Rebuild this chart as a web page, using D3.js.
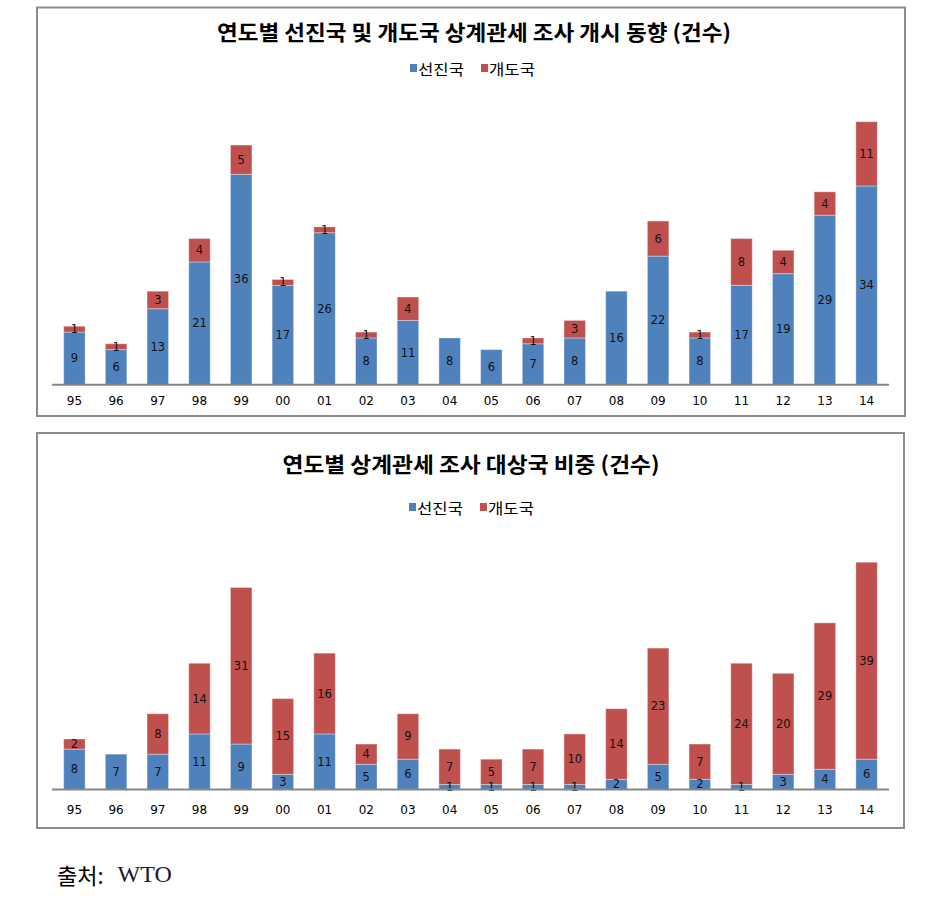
<!DOCTYPE html>
<html>
<head>
<meta charset="utf-8">
<script src="https://cdn.jsdelivr.net/npm/d3@7"></script>
<style>
  html, body { margin: 0; padding: 0; background: #fff; }
  svg { display: block; }
</style>
</head>
<body>
<svg id="chart" width="934" height="914"></svg>
<script>
// ---- data ----
const years = ["95","96","97","98","99","00","01","02","03","04","05","06","07","08","09","10","11","12","13","14"];
const seriesNames = ["선진국", "개도국"];

// Chart 1: 연도별 선진국 및 개도국 상계관세 조사 개시 동향
const initAdvanced   = [9, 6, 13, 21, 36, 17, 26, 8, 11, 8, 6, 7, 8, 16, 22, 8, 17, 19, 29, 34];
const initDeveloping = [1, 1, 3, 4, 5, 1, 1, 1, 4, 0, 0, 1, 3, 0, 6, 1, 8, 4, 4, 11];

// Chart 2: 연도별 상계관세 조사 대상국 비중
const targetAdvanced   = [8, 7, 7, 11, 9, 3, 11, 5, 6, 1, 1, 1, 1, 2, 5, 2, 1, 3, 4, 6];
const targetDeveloping = [2, 0, 8, 14, 31, 15, 16, 4, 9, 7, 5, 7, 10, 14, 23, 7, 24, 20, 29, 39];

const title1 = "연도별 선진국 및 개도국 상계관세 조사 개시 동향 (건수)";
const title2 = "연도별 상계관세 조사 대상국 비중 (건수)";
const sourceLabel = "출처:";
const sourceName = "WTO";

// ---- drawing ----
const colors = ["#4F81BD", "#C0504D"];
const svg = d3.select("#chart");
const korFont = "'Noto Sans CJK KR', 'Noto Sans', sans-serif";
const numFont = "'DejaVu Sans', Verdana, sans-serif";

function drawChart(cfg) {
  const g = svg.append("g");
  // frame
  g.append("rect")
    .attr("x", cfg.box[0]).attr("y", cfg.box[1])
    .attr("width", cfg.box[2]).attr("height", cfg.box[3])
    .attr("fill", "#fff").attr("stroke", "#8c8c8c").attr("stroke-width", 2);

  // title
  g.append("text")
    .attr("x", cfg.titleX).attr("y", cfg.titleY)
    .attr("text-anchor", "middle").attr("dominant-baseline", "central")
    .attr("font-family", korFont).attr("font-weight", "bold")
    .attr("font-size", 21).attr("fill", "#000")
    .attr("textLength", cfg.titleW).attr("lengthAdjust", "spacingAndGlyphs")
    .text(cfg.title);

  // legend
  const lg = g.append("g");
  const items = [
    {name: seriesNames[0], color: colors[0], x: cfg.legendX},
    {name: seriesNames[1], color: colors[1], x: cfg.legendX + 71}
  ];
  items.forEach(it => {
    lg.append("rect").attr("x", it.x).attr("y", cfg.legendY - 4)
      .attr("width", 7).attr("height", 8).attr("fill", it.color);
    lg.append("text").attr("x", it.x + 8).attr("y", cfg.legendY)
      .attr("dominant-baseline", "central")
      .attr("font-family", korFont).attr("font-size", 15).attr("fill", "#000")
      .attr("textLength", 46).attr("lengthAdjust", "spacingAndGlyphs")
      .text(it.name);
  });

  const x = d3.scaleBand().domain(years).range([52, 889])
    .paddingInner(0.485).paddingOuter(0.28);
  const y = d3.scaleLinear().domain([0, 50]).range([cfg.base, cfg.base - 50 * cfg.unit]);

  const rows = years.map((yr, i) => ({year: yr, a: cfg.a[i], d: cfg.d[i]}));
  const stacked = d3.stack().keys(["a", "d"])(rows);

  stacked.forEach((layer, li) => {
    const lgp = g.append("g");
    lgp.selectAll("rect").data(layer.filter(s => s[1] - s[0] > 0)).join("rect")
      .attr("x", s => x(s.data.year))
      .attr("y", s => y(s[1]))
      .attr("width", x.bandwidth())
      .attr("height", s => y(s[0]) - y(s[1]))
      .attr("fill", colors[li])
      .attr("stroke", "#ffffff").attr("stroke-opacity", 0.35).attr("stroke-width", 1);
  });
  stacked.forEach((layer, li) => {
    g.append("g").selectAll("text").data(layer.filter(s => s[1] - s[0] > 0)).join("text")
      .attr("x", s => x(s.data.year) + x.bandwidth() / 2)
      .attr("y", s => (y(s[0]) + y(s[1])) / 2)
      .attr("text-anchor", "middle").attr("dominant-baseline", "central")
      .attr("font-family", numFont).attr("font-size", 11.5).attr("fill", "#111")
      .text(s => s[1] - s[0]);
  });

  // x axis
  const axis = g.append("g").attr("transform", `translate(0,${cfg.base})`)
    .call(d3.axisBottom(x).tickSize(0).tickPadding(0));
  axis.select(".domain").attr("stroke", "#868686").attr("stroke-width", 2)
    .attr("d", `M${52},0H${889}`);
  axis.selectAll(".tick text")
    .attr("y", cfg.tickY - cfg.base).attr("dy", null)
    .attr("dominant-baseline", "central")
    .attr("font-family", numFont).attr("font-size", 12).attr("fill", "#000");
}

drawChart({
  box: [37, 7.5, 868, 408.5],
  title: title1, titleX: 474, titleY: 31, titleW: 514,
  legendX: 410, legendY: 68,
  base: 384.7, unit: 5.845, tickY: 401,
  a: initAdvanced, d: initDeveloping
});

drawChart({
  box: [37, 433, 867, 395],
  title: title2, titleX: 471, titleY: 463, titleW: 377,
  legendX: 409, legendY: 507,
  base: 789.5, unit: 5.05, tickY: 810,
  a: targetAdvanced, d: targetDeveloping
});

// source
const src = svg.append("text").attr("x", 57).attr("y", 874)
  .attr("dominant-baseline", "central");
src.append("tspan").attr("font-family", korFont).attr("font-size", 22).attr("fill", "#000")
  .text(sourceLabel);
src.append("tspan").attr("dx", 14).attr("font-family", "'Liberation Serif', 'Times New Roman', serif")
  .attr("font-size", 24).attr("fill", "#1a1a2a").text(sourceName);
</script>
</body>
</html>
